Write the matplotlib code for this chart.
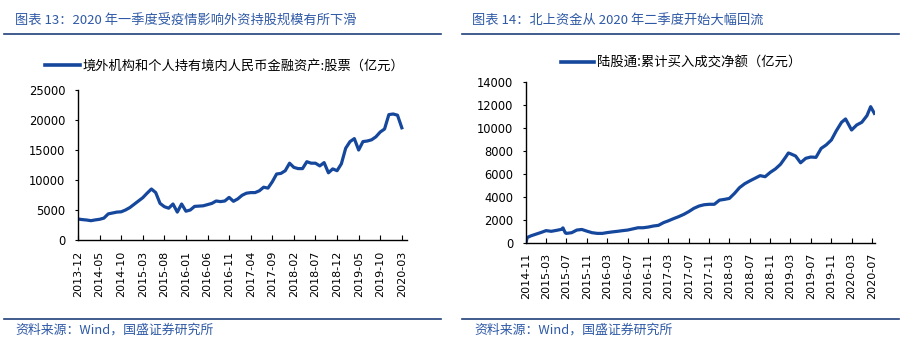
import pandas as pd
import matplotlib.pyplot as plt
from matplotlib.lines import Line2D

plt.rcParams['font.family'] = ['Noto Sans CJK SC', 'DejaVu Sans']

# ---- 图表13: 境外机构和个人持有境内人民币金融资产:股票 (月度, 亿元)
left_months = pd.period_range('2013-12', '2020-03', freq='M').strftime('%Y-%m').tolist()
left_values = [
    3500, 3400, 3330, 3220, 3350, 3450, 3650, 4350, 4500, 4650,
    4700, 5000, 5400, 5950, 6500, 7050, 7800, 8500, 7900, 6100,
    5550, 5300, 6000, 4650, 6000, 4800, 5000, 5600, 5650, 5700,
    5900, 6100, 6500, 6400, 6500, 7100, 6450, 6850, 7450, 7800,
    7900, 7900, 8200, 8800, 8650, 9700, 11000, 11100, 11550, 12800,
    12100, 11900, 11900, 13050, 12800, 12800, 12350, 12900, 11200, 11850,
    11550, 12700, 15300, 16400, 16900, 15000, 16400, 16500, 16700, 17200,
    18000, 18500, 20900, 21000, 20800, 18700,
]
left_yticks = [0, 5000, 10000, 15000, 20000, 25000]

# ---- 图表14: 陆股通累计买入成交净额 (亿元)
right_dates = [
    '2014-11-17', '2014-11-24', '2014-12-17', '2015-01-17', '2015-02-17',
    '2015-03-17', '2015-04-17', '2015-05-17', '2015-06-17', '2015-06-26',
    '2015-07-10', '2015-07-17', '2015-08-17', '2015-09-17', '2015-10-17',
    '2015-11-17', '2015-12-17', '2016-01-17', '2016-02-17', '2016-03-17',
    '2016-04-17', '2016-05-17', '2016-06-17', '2016-07-17', '2016-08-17',
    '2016-09-17', '2016-10-17', '2016-11-17', '2016-12-17', '2017-01-17',
    '2017-02-17', '2017-03-17', '2017-04-17', '2017-05-17', '2017-06-17',
    '2017-07-17', '2017-08-17', '2017-09-17', '2017-10-17', '2017-11-17',
    '2017-12-17', '2018-01-17', '2018-02-17', '2018-03-17', '2018-04-17',
    '2018-05-17', '2018-06-17', '2018-07-17', '2018-08-17', '2018-09-17',
    '2018-10-17', '2018-11-17', '2018-12-17', '2019-01-17', '2019-02-17',
    '2019-03-05', '2019-03-17', '2019-04-17', '2019-05-17', '2019-06-17',
    '2019-07-17', '2019-08-17', '2019-09-17', '2019-10-17', '2019-11-17',
    '2019-12-17', '2020-01-17', '2020-02-10', '2020-03-17', '2020-04-17',
    '2020-05-17', '2020-06-17', '2020-07-09', '2020-07-31',
]
right_values = [
    0, 450, 600, 750, 900,
    1050, 990, 1070, 1160, 1290,
    850, 810, 870, 1100, 1150,
    1000, 870, 810, 810, 880,
    940, 990, 1050, 1100, 1200,
    1300, 1300, 1360, 1450, 1510,
    1750, 1900, 2090, 2260, 2460,
    2700, 2990, 3190, 3300, 3340,
    3340, 3700, 3770, 3850, 4290,
    4790, 5130, 5370, 5600, 5830,
    5740, 6120, 6410, 6820, 7450,
    7800, 7740, 7540, 6950, 7340,
    7450, 7420, 8200, 8500, 8930,
    9740, 10470, 10760, 9800, 10240,
    10470, 11050, 11830, 11250,
]
right_yticks = [0, 2000, 4000, 6000, 8000, 10000, 12000, 14000]

line_color = '#15479C'
title_color = '#2E59A6'
rule_color = '#1F3F7A'

fig = plt.figure(figsize=(9.08, 3.43), dpi=100)
W, H = 908, 343


def style_axis(ax):
    for s in ['top', 'right']:
        ax.spines[s].set_visible(False)
    for s in ['left', 'bottom']:
        ax.spines[s].set_linewidth(1.0)
        ax.spines[s].set_color('black')
    ax.tick_params(axis='y', direction='out', length=2.5, width=0.8, pad=6.5,
                   labelsize=8.3, labelfontfamily='DejaVu Sans')
    ax.tick_params(axis='x', direction='in', length=3.6, width=0.8, pad=7.5,
                   labelsize=8, labelfontfamily='DejaVu Sans', labelrotation=90)


# left chart
ax1 = fig.add_axes([78 / W, (H - 240) / H, 329 / W, 150 / H])
ax1.plot(range(len(left_values)), left_values, color=line_color, lw=2.3, solid_joinstyle='round')
ax1.set_xlim(0, 76.2)
ax1.set_ylim(0, 25000)
ax1.set_yticks(left_yticks)
ax1.set_xticks(range(0, len(left_months), 5))
ax1.set_xticklabels(left_months[::5])
style_axis(ax1)

# right chart
rd = pd.to_datetime(right_dates)
ax2 = fig.add_axes([526 / W, (H - 242.7) / H, 349 / W, 161 / H])
ax2.plot(rd, right_values, color=line_color, lw=2.3, solid_joinstyle='round')
rticks = pd.date_range('2014-11-17', periods=18, freq=pd.DateOffset(months=4))
ax2.set_xlim(pd.Timestamp('2014-11-17'), pd.Timestamp('2020-08-04'))
ax2.set_ylim(0, 14000)
ax2.set_yticks(right_yticks)
ax2.set_xticks(rticks)
ax2.set_xticklabels(rticks.strftime('%Y-%m'))
style_axis(ax2)

# legends
fig.legend([Line2D([], [], color=line_color, lw=2.6)],
           ['境外机构和个人持有境内人民币金融资产:股票（亿元）'],
           loc='center left', bbox_to_anchor=(45 / W, 1 - 66 / H), frameon=False,
           fontsize=9.5, handlelength=2.65, handletextpad=0.2, borderpad=0, borderaxespad=0)
fig.legend([Line2D([], [], color=line_color, lw=2.6)],
           ['陆股通:累计买入成交净额（亿元）'],
           loc='center left', bbox_to_anchor=(561 / W, 1 - 63 / H), frameon=False,
           fontsize=9.6, handlelength=2.45, handletextpad=0.25, borderpad=0, borderaxespad=0)

# titles, rules and sources
fig.text(15 / W, 1 - 21 / H, '图表 13：2020 年一季度受疫情影响外资持股规模有所下滑',
         color=title_color, fontsize=9.5, va='center', ha='left')
fig.text(472 / W, 1 - 21 / H, '图表 14：北上资金从 2020 年二季度开始大幅回流',
         color=title_color, fontsize=9.5, va='center', ha='left')
for x0, x1 in [(4, 441), (462, 899)]:
    fig.add_artist(Line2D([x0 / W, x1 / W], [1 - 34 / H, 1 - 34 / H], color=rule_color, lw=1.2))
    fig.add_artist(Line2D([x0 / W, x1 / W], [1 - 319 / H, 1 - 319 / H], color=rule_color, lw=1.2))
fig.text(15 / W, 1 - 330 / H, '资料来源：Wind，国盛证券研究所',
         color=title_color, fontsize=9.3, va='center', ha='left')
fig.text(474 / W, 1 - 330 / H, '资料来源：Wind，国盛证券研究所',
         color=title_color, fontsize=9.3, va='center', ha='left')

fig.savefig('out.png', dpi=100)
